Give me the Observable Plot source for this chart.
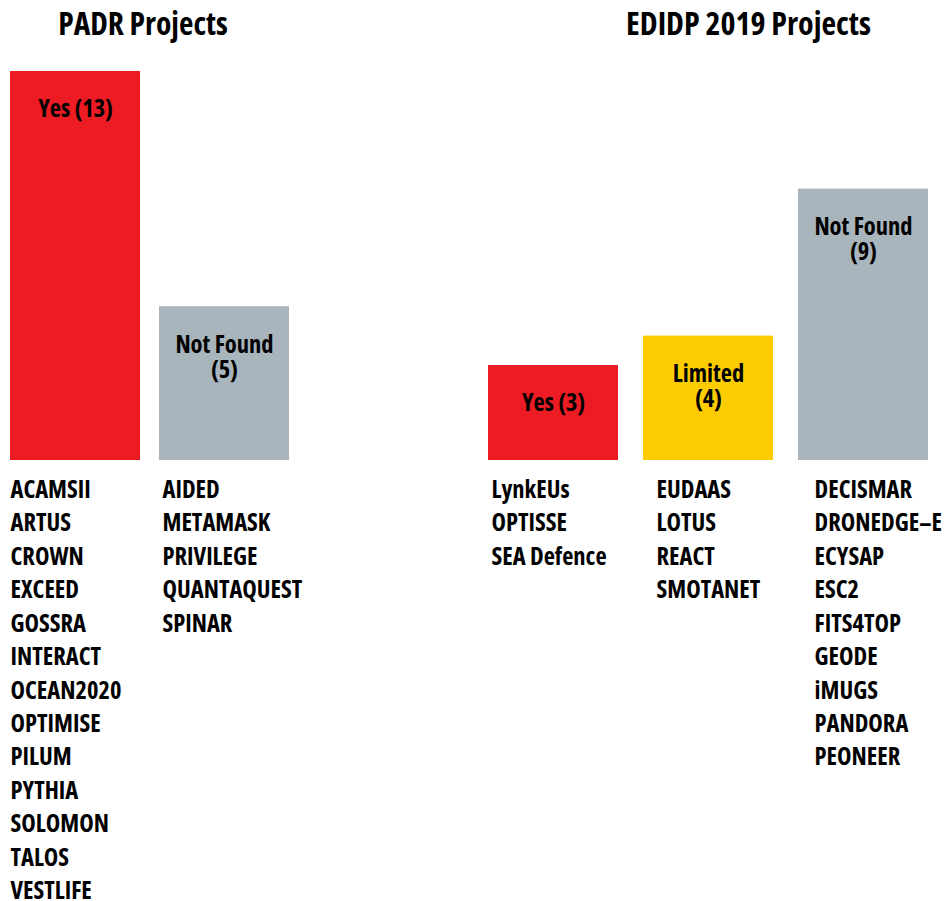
<!DOCTYPE html>
<html>
<head>
<meta charset="utf-8">
<script src="https://cdn.jsdelivr.net/npm/d3@7"></script>
<script src="https://cdn.jsdelivr.net/npm/@observablehq/plot@0.6"></script>
<style>
  html, body { margin: 0; padding: 0; background: #fff; }
  #wrap { position: relative; width: 946px; height: 901px; overflow: hidden; }
  #wrap > div { position: absolute; top: 0; }
  svg { font-family: "Open Sans", sans-serif; font-stretch: condensed; font-weight: bold; overflow: visible; }
</style>
</head>
<body>
<div id="wrap"><div id="left" style="left:0"></div><div id="right" style="left:470px"></div></div>
<script>
const padrTitle = "PADR Projects";
const edidpTitle = "EDIDP 2019 Projects";

const padrCategories = ["Yes", "Not Found"];
const padrCounts = [13, 5];
const padrLabels = ["Yes (13)", "Not Found\n(5)"];
const padrNames = [
  ["ACAMSII","ARTUS","CROWN","EXCEED","GOSSRA","INTERACT","OCEAN2020","OPTIMISE","PILUM","PYTHIA","SOLOMON","TALOS","VESTLIFE"],
  ["AIDED","METAMASK","PRIVILEGE","QUANTAQUEST","SPINAR"]
];

const edidpCategories = ["Yes", "Limited", "Not Found"];
const edidpCounts = [3, 4, 9];
const edidpLabels = ["Yes (3)", "Limited\n(4)", "Not Found\n(9)"];
const edidpNames = [
  ["LynkEUs","OPTISSE","SEA Defence"],
  ["EUDAAS","LOTUS","REACT","SMOTANET"],
  ["DECISMAR","DRONEDGE–E","ECYSAP","ESC2","FITS4TOP","GEODE","iMUGS","PANDORA","PEONEER"]
];

const colors = {"Yes": "#ED1C24", "Limited": "#FDCC00", "Not Found": "#A8B5BC"};

function build(cats, counts, labels, names, title, opts) {
  const data = cats.map((c, i) => ({cat: c, n: counts[i], label: labels[i], names: names[i].join("\n")}));
  const nameMarks = data.map((d, i) => Plot.text([d], {
    x: "cat", y: 0, text: "names", textAnchor: "start", lineAnchor: "top",
    frameAnchor: "left", dx: opts.nameDx[i] - 66, dy: 20.5, fontSize: 24.5, lineHeight: 1.365, fill: "#000"
  }));
  return Plot.plot({
    width: opts.width, height: 901,
    marginLeft: opts.ml, marginRight: opts.mr, marginTop: 71, marginBottom: 447.8,
    x: {domain: cats, paddingInner: opts.pad, paddingOuter: 0, axis: null},
    y: {domain: [0, 13], axis: null},
    color: {domain: Object.keys(colors), range: Object.values(colors)},
    marks: [
      Plot.barY(data, {x: "cat", y: "n", fill: "cat", insetBottom: -6.8}),
      Plot.text(data, {x: "cat", y: "n", text: "label", lineAnchor: "top", dy: 28, fontSize: 24.5, lineHeight: 1.03, fill: "#000"}),
      ...nameMarks,
      Plot.text([title], {frameAnchor: "top", text: d => d, dx: opts.titleDx, dy: -47, lineAnchor: "middle", fontSize: opts.titleSize, fill: "#000"})
    ]
  });
}

document.getElementById("left").append(build(padrCategories, padrCounts, padrLabels, padrNames, padrTitle,
  {width: 340, ml: 10, mr: 51, pad: 19/149, nameDx: [1, 4], titleDx: -7, titleSize: 31.5}));
document.getElementById("right").append(build(edidpCategories, edidpCounts, edidpLabels, edidpNames, edidpTitle,
  {width: 476, ml: 18, mr: 18, pad: 25/155, nameDx: [4, 14, 17], titleDx: 40, titleSize: 32}));
</script>
</body>
</html>
